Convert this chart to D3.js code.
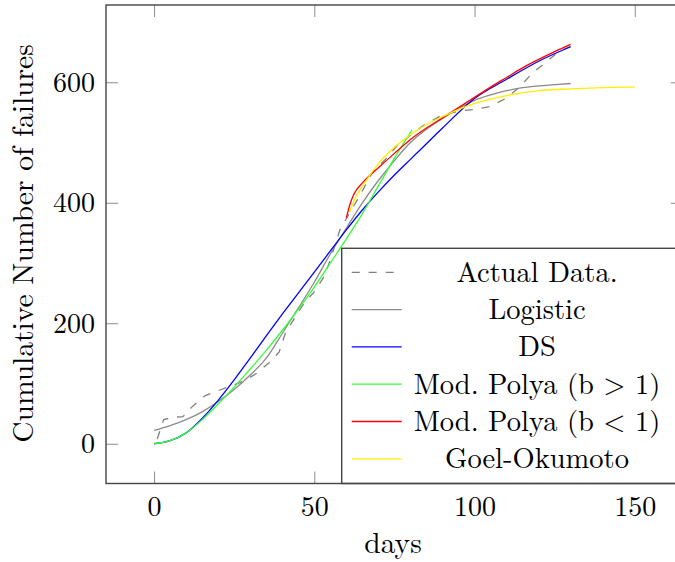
<!DOCTYPE html>
<html>
<head>
<meta charset="utf-8">
<script src="https://cdn.jsdelivr.net/npm/d3@7"></script>
<style>
  body { margin: 0; background: #fff; }
  text { font-family: "Latin Modern Roman", "CMU Serif", "Liberation Serif", serif; fill: #000; }
</style>
</head>
<body>
<div id="chart"></div>
<script>
// actual observations
const actualDays = [1, 3, 6, 9, 12, 16, 20, 24, 28, 32, 36, 39, 41, 44, 47, 50, 53, 55, 58, 61, 64, 68, 72, 76, 80, 84, 90, 96, 100, 105, 110, 114, 118, 122, 126, 130];
const actualFailures = [8, 40, 44, 45, 62, 80, 88, 96, 104, 117, 135, 152, 184, 210, 235, 252, 277, 305, 355, 383, 410, 449, 471, 496, 512, 528, 546, 553, 555, 560, 574, 592, 615, 632, 650, 660];

// fitted models
const logisticDays = [0, 5, 10, 15, 20, 25, 30, 35, 40, 45, 50, 55, 60, 65, 70, 75, 80, 85, 90, 95, 100, 105, 110, 115, 120, 125, 130];
const logisticValues = [22, 30, 40, 53, 70, 90, 114, 142, 183, 225, 268, 315, 358, 400, 437, 470, 500, 522, 540, 556, 570, 579, 586, 591, 594, 596, 598];

const dsDays = [0, 5, 10, 15, 20, 25, 30, 35, 40, 45, 50, 55, 60, 65, 70, 75, 80, 85, 90, 100, 110, 120, 130];
const dsValues = [0, 5, 18, 42, 72, 106, 142, 179, 215, 250, 285, 320, 355, 388, 418, 446, 472, 498, 524, 573, 605, 635, 659];

const polyaHighDays = [0, 5, 10, 15, 20, 25, 30, 35, 40, 45, 50, 55, 60, 65, 70, 75, 80.5];
const polyaHighValues = [0, 5, 18, 40, 66, 94, 124, 155, 188, 223, 260, 300, 340, 382, 428, 474, 521];

const polyaLowDays = [60, 61, 62, 63, 65, 70, 75, 80, 85, 90, 95, 100, 105, 110, 115, 120, 125, 130];
const polyaLowValues = [375, 395, 410, 420, 433, 458, 482, 505, 524, 541, 558, 575, 592, 608, 624, 638, 651, 663];

const goelDays = [61, 63, 65, 70, 75, 80, 85, 90, 95, 100, 110, 120, 130, 140, 150];
const goelValues = [385, 410, 427, 465, 492, 513, 530, 543, 555, 565, 578, 586, 589, 591, 592];

const xTicks = [0, 50, 100, 150];
const yTicks = [0, 200, 400, 600];

const series = [
  {name: "Actual Data.", days: actualDays, values: actualFailures, color: "#808080", dash: "8,9", curve: d3.curveLinear},
  {name: "Logistic", days: logisticDays, values: logisticValues, color: "#8a8a8a", dash: null, curve: d3.curveMonotoneX},
  {name: "DS", days: dsDays, values: dsValues, color: "#0000ff", dash: null, curve: d3.curveMonotoneX},
  {name: "Mod. Polya (b > 1)", days: polyaHighDays, values: polyaHighValues, color: "#33ff33", dash: null, curve: d3.curveMonotoneX},
  {name: "Mod. Polya (b < 1)", days: polyaLowDays, values: polyaLowValues, color: "#ff0000", dash: null, curve: d3.curveMonotoneX},
  {name: "Goel-Okumoto", days: goelDays, values: goelValues, color: "#ffee00", dash: null, curve: d3.curveMonotoneX}
];

const W = 675, H = 562;
const plot = {left: 106, top: 5, bottom: 483.5};

const svg = d3.select("#chart")
    .append("svg")
    .attr("width", W)
    .attr("height", H);

const x = d3.scaleLinear().domain([-15, 165]).range([plot.left, plot.left + 180 * 3.2047]);
const y = d3.scaleLinear().domain([-66, 728.3]).range([plot.bottom, plot.top]);
const right = x(165);

// curves
series.forEach(s => {
    const pts = s.days.map((d, i) => [d, s.values[i]]);
    const line = d3.line().x(d => x(d[0])).y(d => y(d[1])).curve(s.curve);
    svg.append("path")
        .datum(pts)
        .attr("fill", "none")
        .attr("stroke", s.color)
        .attr("stroke-width", 1.3)
        .attr("stroke-dasharray", s.dash)
        .attr("d", line);
});

// axes, ticks point inward on every side
const tickFont = 28;
const labelFont = 29.5;
const legendFont = 28.5;
svg.append("g")
    .attr("transform", `translate(0,${plot.bottom})`)
    .call(d3.axisBottom(x).tickValues(xTicks).tickSize(-12).tickPadding(12.4));
svg.append("g")
    .attr("transform", `translate(0,${plot.top})`)
    .call(d3.axisTop(x).tickValues(xTicks).tickSize(-12).tickFormat(""));
svg.append("g")
    .attr("transform", `translate(${plot.left},0)`)
    .call(d3.axisLeft(y).tickValues(yTicks).tickSize(-12).tickPadding(11));
svg.append("g")
    .attr("transform", `translate(${right},0)`)
    .call(d3.axisRight(y).tickValues(yTicks).tickSize(-12).tickFormat(""));

svg.selectAll(".domain").remove();
svg.selectAll(".tick line").attr("stroke", "#8c8c8c").attr("stroke-width", 1);
svg.selectAll(".tick text")
    .attr("font-family", null)
    .attr("font-size", tickFont)
    .attr("fill", "#000");

// legend
const lg = {left: 341.7, top: 248.3, rowStart: 272.3, rowStep: 37.3};
svg.append("rect")
    .attr("x", lg.left)
    .attr("y", lg.top)
    .attr("width", right - lg.left)
    .attr("height", plot.bottom - lg.top)
    .attr("fill", "#fff")
    .attr("stroke", "#444")
    .attr("stroke-width", 1.4);

series.forEach((s, i) => {
    const cy = lg.rowStart + i * lg.rowStep;
    svg.append("line")
        .attr("x1", 351.7).attr("x2", 401.7)
        .attr("y1", cy).attr("y2", cy)
        .attr("stroke", s.color)
        .attr("stroke-width", 1.3)
        .attr("stroke-dasharray", s.dash);
    svg.append("text")
        .attr("x", 537)
        .attr("y", cy + 9.5)
        .attr("text-anchor", "middle")
        .attr("font-size", legendFont)
        .text(s.name);
});

// frame
svg.append("rect")
    .attr("x", plot.left)
    .attr("y", plot.top)
    .attr("width", right - plot.left)
    .attr("height", plot.bottom - plot.top)
    .attr("fill", "none")
    .attr("stroke", "#444")
    .attr("stroke-width", 1.4);

// axis labels
svg.append("text")
    .attr("x", 393)
    .attr("y", 553)
    .attr("text-anchor", "middle")
    .attr("font-size", labelFont)
    .text("days");

svg.append("text")
    .attr("transform", "translate(33,243.5) rotate(-90)")
    .attr("text-anchor", "middle")
    .attr("font-size", labelFont)
    .text("Cumulative Number of failures");
</script>
</body>
</html>
